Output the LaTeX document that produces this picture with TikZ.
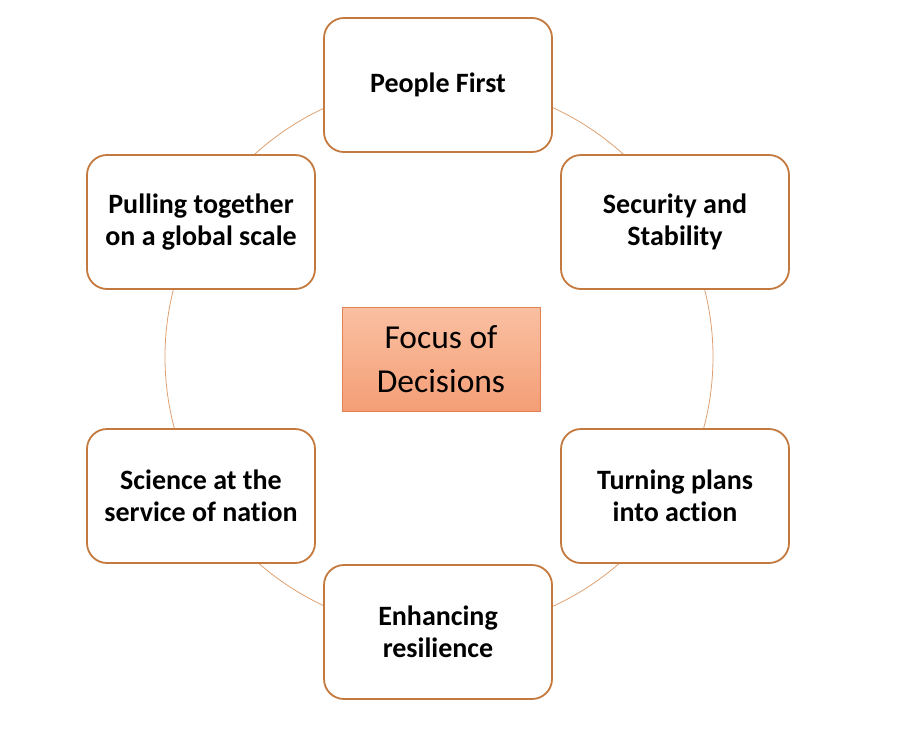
\documentclass[tikz,border=0pt]{standalone}
\usepackage{fontspec}
\setmainfont{Carlito}[Ligatures=NoCommon]
\definecolor{boxline}{RGB}{196,121,62}
\definecolor{ringline}{RGB}{222,160,112}
\definecolor{hubtop}{RGB}{250,192,162}
\definecolor{hubbottom}{RGB}{244,158,118}
\definecolor{hubline}{RGB}{226,130,84}
\begin{document}
\begin{tikzpicture}[x=1pt,y=-1pt,
  focus/.style={draw=boxline, line width=1.8pt, fill=white, rounded corners=20pt,
    minimum width=228pt, minimum height=134pt, align=center,
    font=\fontsize{28}{32}\selectfont\bfseries},
  hub/.style={draw=hubline, line width=0.8pt, top color=hubtop, bottom color=hubbottom,
    minimum width=198pt, minimum height=104pt, align=center,
    font=\fontsize{33.5}{44}\selectfont}]
\useasboundingbox (0,0) rectangle (912,744);
% ring behind the boxes
\coordinate (mid) at (439,357);
\draw[ringline, line width=0.8pt] (mid) circle[radius=274pt];
% centre
\node[hub] (decisions) at (441,359) {Focus of\\Decisions};
% boxes round the ring
\node[focus] (people) at (438,85) {People First};
\node[focus] (security) at (675,222) {Security and\\Stability};
\node[focus] (plans) at (675,496) {Turning plans\\into action};
\node[focus] (resilience) at (438,632) {Enhancing\\resilience};
\node[focus] (science) at (201,496) {Science at the\\service of nation};
\node[focus] (global) at (201,222) {Pulling together\\on a global scale};
\end{tikzpicture}
\end{document}
